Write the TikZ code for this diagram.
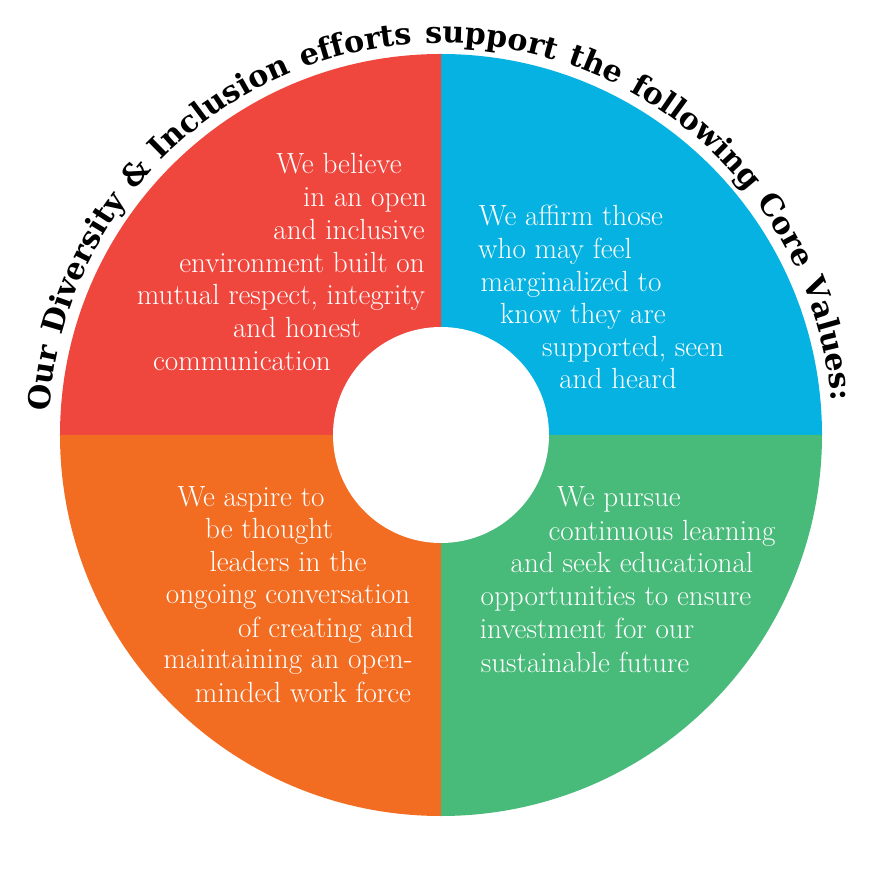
\documentclass[tikz,border=0pt]{standalone}
\usepackage{fontspec}
\usetikzlibrary{decorations.text}
\newfontfamily\headfont{DejaVu Serif}
\definecolor{cred}{HTML}{EF473E}
\definecolor{cblue}{HTML}{05B2E1}
\definecolor{corange}{HTML}{F26C22}
\definecolor{cgreen}{HTML}{48BA7A}
\tikzset{val/.style={text=white,anchor=base,inner sep=0pt,font=\fontsize{16.6}{20}\selectfont},
  wedge/.style={draw=none}}

\begin{document}
\begin{tikzpicture}[x=0.02cm,y=0.02cm]
\useasboundingbox (-441,-446) rectangle (440,435);
\coordinate (c) at (0,0);
\fill[wedge,cblue](c)--(0:381)arc[start angle=0,end angle=90,radius=381]--cycle;
\fill[wedge,cred](c)--(90:381)arc[start angle=90,end angle=180,radius=381]--cycle;
\fill[wedge,corange](c)--(180:381)arc[start angle=180,end angle=270,radius=381]--cycle;
\fill[wedge,cgreen](c)--(270:381)arc[start angle=270,end angle=360,radius=381]--cycle;
\fill[white](c)circle[radius=108];
% title along the rim
\path[decorate,decoration={text along path,text align={fit to path stretching spaces},
  text={|\headfont\bfseries\fontsize{17.2}{20}\selectfont|Our Diversity {\&} Inclusion efforts support the following Core Values:}}]
  (176.6:392)arc[start angle=176.6,end angle=5,radius=392];
% the four values, line by line
\foreach\t/\x/\y[count=\i]in{{We believe}/339/174,{in an open}/365/207,{and inclusive}/349/240,{environment built on}/302/273,{mutual respect, integrity}/281/305,{and honest}/297/338,{communication}/242/371}
  \node[val](r\i)at(\x-441,435-\y){\t};
\foreach\t/\x/\y[count=\i]in{{We affirm those}/571/226,{who may feel}/555/259,{marginalized to}/571/292,{know they are}/583/324,{supported, seen}/633/357,{and heard}/618/389}
  \node[val](b\i)at(\x-441,435-\y){\t};
\foreach\t/\x/\y[count=\i]in{{We aspire to}/251/507,{be thought}/269/539,{leaders in the}/288/572,{ongoing conversation}/288/604,{of creating and}/326/637,{maintaining an open-}/288/669,{minded work force}/303/702}
  \node[val](o\i)at(\x-441,435-\y){\t};
\foreach\t/\x/\y[count=\i]in{{We pursue}/619/507,{continuous learning}/662/541,{and seek educational}/632/573,{opportunities to ensure}/616/606,{investment for our}/587/638,{sustainable future}/585/672}
  \node[val](g\i)at(\x-441,435-\y){\t};
\end{tikzpicture}
\end{document}
